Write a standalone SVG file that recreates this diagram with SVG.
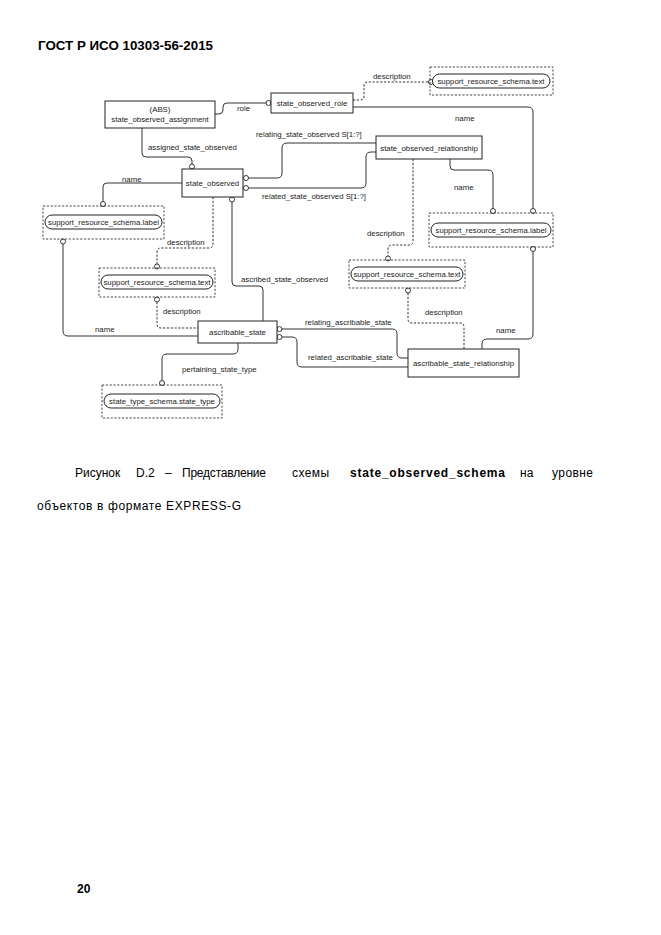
<svg xmlns="http://www.w3.org/2000/svg" width="661" height="935" viewBox="0 0 661 935">
<style>
.box{fill:#fff;stroke:#222;stroke-width:1}
.dbox{fill:none;stroke:#333;stroke-width:0.9;stroke-dasharray:2.2,1.6}
.pill{fill:#fff;stroke:#222;stroke-width:1}
.ln{fill:none;stroke:#333;stroke-width:1}
.dl{fill:none;stroke:#333;stroke-width:1;stroke-dasharray:2.2,1.6}
.c{fill:#fff;stroke:#222;stroke-width:0.9}
text{font-family:"Liberation Sans",Arial,sans-serif;fill:#222}
.t{font-size:7.8px}
.m{text-anchor:middle}
.pg{font-size:12px;fill:#000}
.b{font-weight:bold}
</style>
<rect width="661" height="935" fill="#fff"/>
<text class="pg b" x="38" y="50" textLength="175" lengthAdjust="spacingAndGlyphs">ГОСТ Р ИСО 10303-56-2015</text>

<g id="connectors">
  <path class="ln" d="M215,114 L219,114 Q223,114 223,110 L223,107 Q223,103 227,103 L266,103"/>
  <circle class="c" cx="268.5" cy="103" r="2.5"/>
  <text class="t" x="237" y="111">role</text>

  <path class="dl" d="M353,100 L360,100 Q364,100 364,96 L364,86 Q364,82 368,82 L428.5,82"/>
  <circle class="c" cx="431" cy="82" r="2.5"/>
  <text class="t" x="373" y="78.5">description</text>

  <path class="ln" d="M353,107 L528,107 Q533,107 533,112 L533,208.5"/>
  <circle class="c" cx="533" cy="211" r="2.5"/>
  <text class="t" x="455" y="121">name</text>

  <path class="ln" d="M376,143 L287,143 Q282,143 282,148 L282,173 Q282,178 277,178 L248.5,178"/>
  <circle class="c" cx="246" cy="178" r="2.5"/>
  <text class="t" x="256" y="136.5">relating_state_observed S[1:?]</text>

  <path class="ln" d="M376,152 L371,152 Q366,152 366,157 L366,183 Q366,188 361,188 L248.5,188"/>
  <circle class="c" cx="246" cy="188" r="2.5"/>
  <text class="t" x="262" y="198.5">related_state_observed S[1:?]</text>

  <path class="ln" d="M142,128 L142,153 Q142,157 146,157 L188,157 Q192,157 192,161 L192,164"/>
  <circle class="c" cx="192" cy="166.5" r="2.5"/>
  <text class="t" x="148" y="149.5">assigned_state_observed</text>

  <path class="ln" d="M182,183 L107,183 Q103,183 103,187 L103,201.5"/>
  <circle class="c" cx="103" cy="204" r="2.5"/>
  <text class="t" x="122" y="181.5">name</text>

  <path class="ln" d="M63,244 L63,331 Q63,336 68,336 L198,336"/>
  <circle class="c" cx="63" cy="241.5" r="2.5"/>
  <text class="t" x="95" y="331.5">name</text>

  <path class="dl" d="M213,197 L213,244 Q213,248 209,248 L161,248 Q157,248 157,252 L157,264"/>
  <circle class="c" cx="157" cy="266.5" r="2.5"/>
  <text class="t" x="167" y="244.5">description</text>

  <path class="dl" d="M157,302 L157,324 Q157,328 161,328 L198,328"/>
  <circle class="c" cx="157" cy="299.5" r="2.5"/>
  <text class="t" x="163" y="313.5">description</text>

  <path class="ln" d="M232,202 L232,282 Q232,286 236,286 L259,286 Q263,286 263,290 L263,321"/>
  <circle class="c" cx="232" cy="199.5" r="2.5"/>
  <text class="t" x="241" y="281.5">ascribed_state_observed</text>

  <path class="ln" d="M238,343 L238,349 Q238,354 233,354 L167,354 Q162,354 162,359 L162,380.5"/>
  <circle class="c" cx="162" cy="383" r="2.5"/>
  <text class="t" x="182" y="371.5">pertaining_state_type</text>

  <path class="ln" d="M282,329 L392,329 Q397,329 397,334 L397,353 Q397,358 402,358 L408,358"/>
  <circle class="c" cx="279.5" cy="329" r="2.5"/>
  <text class="t" x="305" y="324.5">relating_ascribable_state</text>

  <path class="ln" d="M282,337 L292,337 Q297,337 297,342 L297,362 Q297,367 302,367 L408,367"/>
  <circle class="c" cx="279.5" cy="337" r="2.5"/>
  <text class="t" x="308" y="359.5">related_ascribable_state</text>

  <path class="dl" d="M408,293 L408,319 Q408,323 412,323 L460,323 Q464,323 464,327 L464,349"/>
  <circle class="c" cx="408" cy="290.5" r="2.5"/>
  <text class="t" x="425" y="314.5">description</text>

  <path class="ln" d="M482,349 L482,344 Q482,339 487,339 L528,339 Q533,339 533,334 L533,251.5"/>
  <circle class="c" cx="533" cy="249" r="2.5"/>
  <text class="t" x="496" y="332.5">name</text>

  <path class="ln" d="M450,159 L450,166 Q450,170 454,170 L488,170 Q493,170 493,175 L493,208.5"/>
  <circle class="c" cx="493" cy="211" r="2.5"/>
  <text class="t" x="454" y="189.5">name</text>

  <path class="dl" d="M413,159 L413,241 Q413,245 409,245 L392,245 Q388,245 388,249 L388,256"/>
  <circle class="c" cx="388" cy="258.5" r="2.5"/>
  <text class="t" x="367" y="235.5">description</text>
</g>

<g id="state_observed_assignment">
  <rect class="box" x="105" y="101" width="110" height="27"/>
  <text class="t m" x="160" y="111.5">(ABS)</text>
  <text class="t m" x="160" y="121.5">state_observed_assignment</text>
</g>
<g id="state_observed_role">
  <rect class="box" x="271" y="93" width="82" height="20"/>
  <text class="t m" x="312" y="105.5">state_observed_role</text>
</g>
<g id="srs_text_top">
  <rect class="dbox" x="430" y="67" width="123" height="28"/>
  <rect class="pill" x="432.5" y="74" width="117.5" height="14" rx="7"/>
  <text class="t m" x="491" y="83.8">support_resource_schema.text</text>
</g>
<g id="state_observed_relationship">
  <rect class="box" x="376" y="136" width="106" height="23"/>
  <text class="t m" x="429" y="150.8">state_observed_relationship</text>
</g>
<g id="state_observed">
  <rect class="box" x="182" y="169" width="61" height="28"/>
  <text class="t m" x="212.5" y="185.8">state_observed</text>
</g>
<g id="srs_label_left">
  <rect class="dbox" x="43" y="206" width="121" height="33"/>
  <rect class="pill" x="45" y="215" width="117" height="14" rx="7"/>
  <text class="t m" x="103.5" y="224.8">support_resource_schema.label</text>
</g>
<g id="srs_label_right">
  <rect class="dbox" x="429" y="213" width="124" height="34"/>
  <rect class="pill" x="431" y="223" width="120" height="14" rx="7"/>
  <text class="t m" x="491" y="232.8">support_resource_schema.label</text>
</g>
<g id="srs_text_left">
  <rect class="dbox" x="99" y="268" width="116" height="29"/>
  <rect class="pill" x="101" y="275" width="112" height="14" rx="7"/>
  <text class="t m" x="157" y="284.8">support_resource_schema.text</text>
</g>
<g id="srs_text_right">
  <rect class="dbox" x="349" y="260" width="116" height="28"/>
  <rect class="pill" x="351" y="267" width="112" height="14" rx="7"/>
  <text class="t m" x="407" y="276.8">support_resource_schema.text</text>
</g>
<g id="ascribable_state">
  <rect class="box" x="198" y="321" width="79" height="22"/>
  <text class="t m" x="237.5" y="334.8">ascribable_state</text>
</g>
<g id="ascribable_state_relationship">
  <rect class="box" x="408" y="349" width="111" height="28"/>
  <text class="t m" x="463.5" y="365.8">ascribable_state_relationship</text>
</g>
<g id="state_type">
  <rect class="dbox" x="102" y="385" width="120" height="33"/>
  <rect class="pill" x="104" y="394" width="116" height="14" rx="7"/>
  <text class="t m" x="162" y="403.8">state_type_schema.state_type</text>
</g>

<g id="caption">
  <text class="pg" x="75" y="477">Рисунок</text>
  <text class="pg" x="136" y="477">D.2</text>
  <text class="pg" x="165" y="477">–</text>
  <text class="pg" x="182" y="477" textLength="84" lengthAdjust="spacing">Представление</text>
  <text class="pg" x="292" y="477" textLength="37" lengthAdjust="spacing">схемы</text>
  <text class="pg b" x="350" y="477" textLength="155" lengthAdjust="spacing">state_observed_schema</text>
  <text class="pg" x="520" y="477">на</text>
  <text class="pg" x="552" y="477" textLength="41" lengthAdjust="spacing">уровне</text>
  <text class="pg" x="37" y="510" textLength="204" lengthAdjust="spacing">объектов в формате EXPRESS-G</text>
</g>
<text class="pg b" x="77" y="893">20</text>
</svg>
